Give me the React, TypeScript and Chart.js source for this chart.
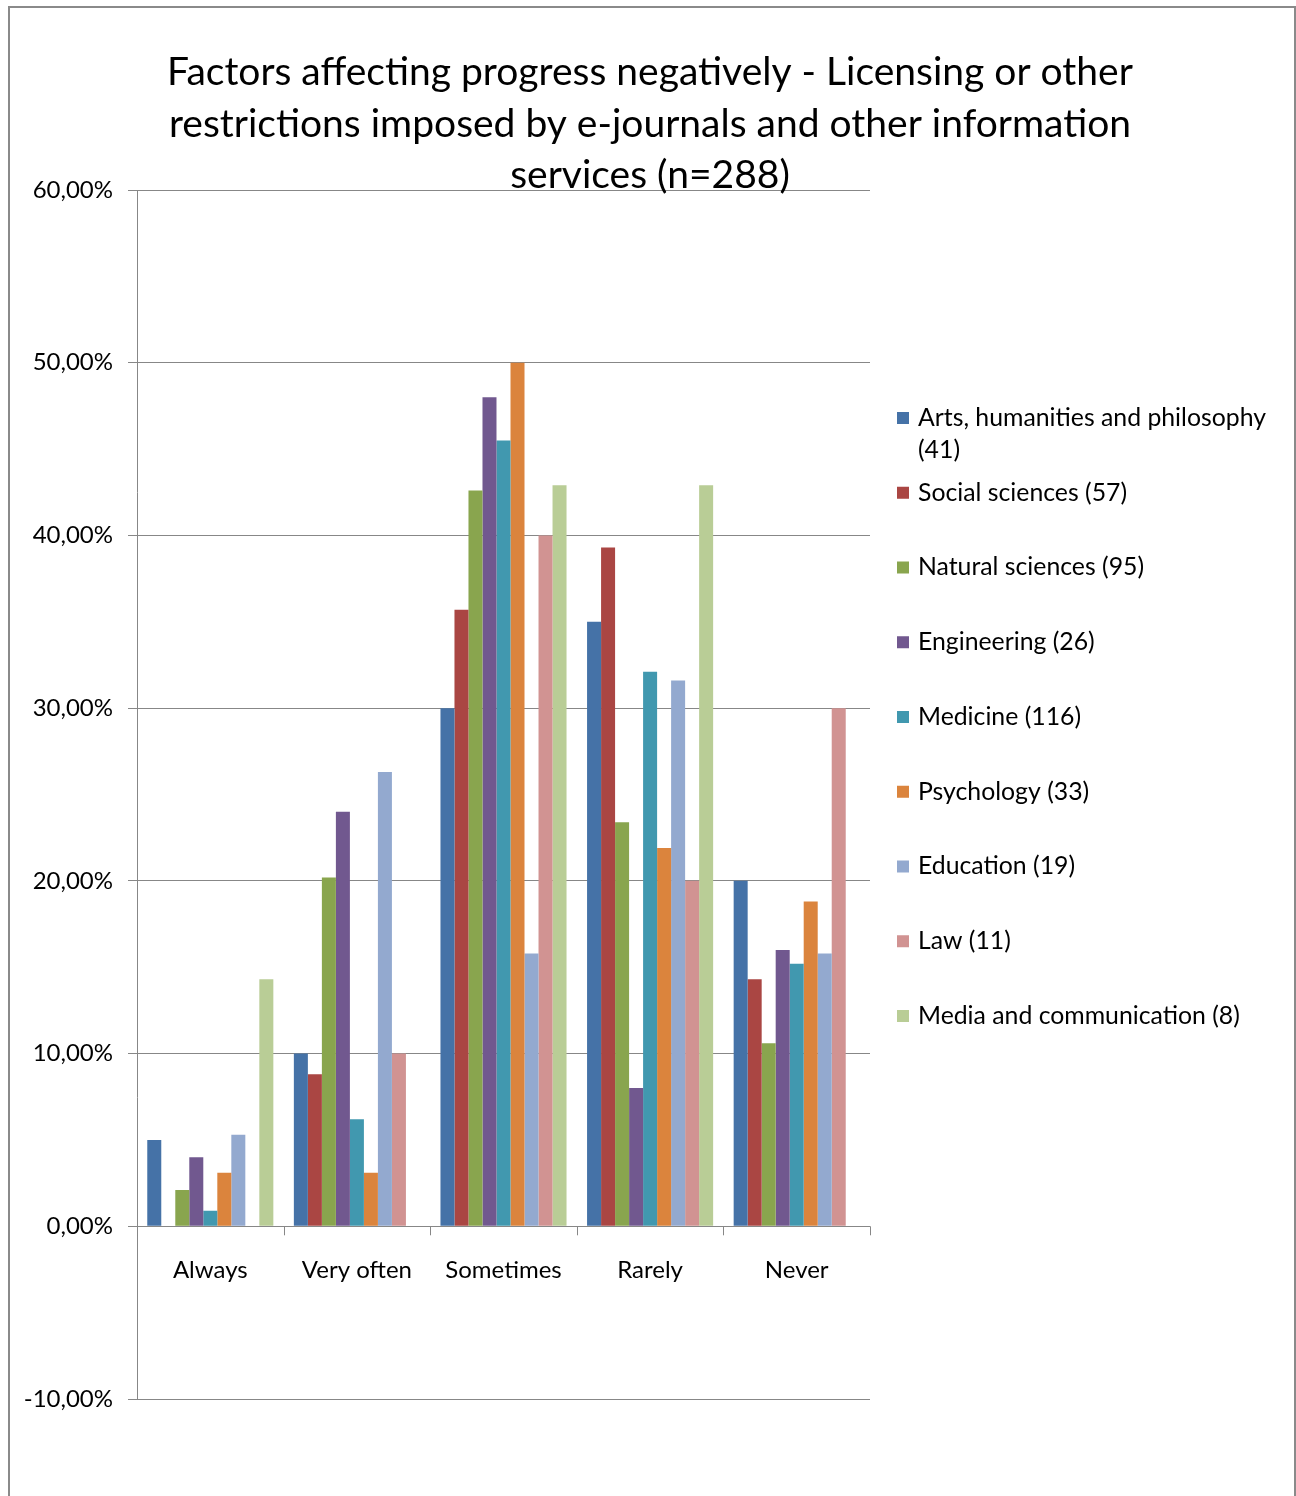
import React, { useEffect, useRef } from "react";
import { Chart, registerables } from "chart.js";

Chart.register(...registerables);

const TITLE_LINES = [
  "Factors affecting progress negatively - Licensing or other",
  "restrictions imposed by e-journals and other information",
  "services (n=288)",
];

const CATEGORIES = ["Always", "Very often", "Sometimes", "Rarely", "Never"];

const SERIES_NAMES = [
  "Arts, humanities and philosophy (41)",
  "Social sciences (57)",
  "Natural sciences (95)",
  "Engineering (26)",
  "Medicine (116)",
  "Psychology (33)",
  "Education (19)",
  "Law (11)",
  "Media and communication (8)",
];

const SERIES_COLORS = [
  "#4572A7",
  "#AA4643",
  "#89A54E",
  "#71588F",
  "#4198AF",
  "#DB843D",
  "#93A9CF",
  "#D19392",
  "#B9CD96",
];

const ARTS = [5.0, 10.0, 30.0, 35.0, 20.0];
const SOCIAL = [0, 8.8, 35.7, 39.3, 14.3];
const NATURAL = [2.1, 20.2, 42.6, 23.4, 10.6];
const ENGINEERING = [4.0, 24.0, 48.0, 8.0, 16.0];
const MEDICINE = [0.9, 6.2, 45.5, 32.1, 15.2];
const PSYCHOLOGY = [3.1, 3.1, 50.0, 21.9, 18.8];
const EDUCATION = [5.3, 26.3, 15.8, 31.6, 15.8];
const LAW = [0, 10.0, 40.0, 20.0, 30.0];
const MEDIA = [14.3, 0, 42.9, 42.9, 0];

const SERIES_VALUES = [ARTS, SOCIAL, NATURAL, ENGINEERING, MEDICINE, PSYCHOLOGY, EDUCATION, LAW, MEDIA];

const Y_MIN = -10;
const Y_MAX = 60;
const Y_STEP = 10;

const FONT = "Lato, 'Open Sans', sans-serif";
const TEXT_COLOR = "#000000";
const LINE_COLOR = "#878787";

function formatPct(v: number): string {
  return v.toFixed(2).replace(".", ",") + "%";
}

function wrapText(ctx: CanvasRenderingContext2D, text: string, maxWidth: number): string[] {
  const words = text.split(" ");
  const lines: string[] = [];
  let cur = "";
  for (const w of words) {
    const test = cur ? cur + " " + w : w;
    if (ctx.measureText(test).width > maxWidth && cur) {
      lines.push(cur);
      cur = w;
    } else {
      cur = test;
    }
  }
  if (cur) lines.push(cur);
  return lines;
}

const decorPlugin = {
  id: "decor",
  afterDraw(chart: any) {
    const ctx: CanvasRenderingContext2D = chart.ctx;
    const area = chart.chartArea;
    const yScale = chart.scales.y;
    ctx.save();

    // outer frame
    ctx.strokeStyle = "#8a8a8a";
    ctx.lineWidth = 2;
    ctx.strokeRect(9, 7, 1286, 1520);

    // title
    ctx.fillStyle = TEXT_COLOR;
    ctx.font = `39px ${FONT}`;
    ctx.textAlign = "center";
    ctx.textBaseline = "alphabetic";
    const titleCx = 650;
    TITLE_LINES.forEach((line, i) => {
      ctx.fillText(line, titleCx, 85 + i * 51.5);
    });

    // category axis tick marks and labels at the zero line
    const y0 = yScale.getPixelForValue(0);
    const n = CATEGORIES.length;
    const step = (area.right - area.left) / n;
    ctx.strokeStyle = LINE_COLOR;
    ctx.lineWidth = 1;
    ctx.beginPath();
    for (let i = 0; i <= n; i++) {
      const x = Math.round(area.left + i * step) + 0.5;
      ctx.moveTo(x, y0);
      ctx.lineTo(x, y0 + 9);
    }
    ctx.stroke();
    ctx.font = `24px ${FONT}`;
    ctx.textAlign = "center";
    ctx.textBaseline = "middle";
    ctx.fillStyle = TEXT_COLOR;
    CATEGORIES.forEach((c, i) => {
      const x = chart.scales.x.getPixelForValue(i);
      ctx.fillText(c, x, y0 + 44);
    });

    // legend
    ctx.font = `24.8px ${FONT}`;
    ctx.textAlign = "left";
    ctx.textBaseline = "middle";
    const legX = 897;
    const textX = 918;
    const firstY = 418;
    const rowGap = 74.75;
    SERIES_NAMES.forEach((name, i) => {
      const cy = firstY + i * rowGap;
      ctx.fillStyle = SERIES_COLORS[i];
      ctx.fillRect(legX, cy - 6, 12, 12);
      ctx.fillStyle = TEXT_COLOR;
      const lines = wrapText(ctx, name, 1288 - textX);
      lines.forEach((ln, j) => {
        ctx.fillText(ln, textX, cy + j * 32);
      });
    });

    ctx.restore();
  },
};

export default function App() {
  const canvasRef = useRef<HTMLCanvasElement | null>(null);

  useEffect(() => {
    if (!canvasRef.current) return;
    const chart = new Chart(canvasRef.current, {
      type: "bar",
      data: {
        labels: CATEGORIES,
        datasets: SERIES_NAMES.map((name, i) => ({
          label: name,
          data: SERIES_VALUES[i],
          backgroundColor: SERIES_COLORS[i],
          borderWidth: 0,
          barPercentage: 1,
          categoryPercentage: 0.86,
        })),
      },
      options: {
        responsive: false,
        animation: false,
        layout: { padding: { left: 0, top: 190, right: 426, bottom: 97 } },
        plugins: {
          legend: { display: false },
          title: { display: false },
          tooltip: { enabled: false },
        },
        scales: {
          x: {
            display: false,
          },
          y: {
            min: Y_MIN,
            max: Y_MAX,
            afterFit: (s: any) => {
              s.width = 137;
            },
            ticks: {
              stepSize: Y_STEP,
              padding: 15,
              color: TEXT_COLOR,
              font: { family: FONT, size: 24 },
              callback: (v: any) => formatPct(Number(v)),
            },
            grid: {
              color: LINE_COLOR,
              lineWidth: 1,
              drawTicks: true,
              tickLength: 9,
              tickColor: LINE_COLOR,
            },
            border: { display: true, color: LINE_COLOR, width: 1 },
          },
        },
      },
      plugins: [decorPlugin],
    });
    return () => chart.destroy();
  }, []);

  return (
    <div style={{ position: "absolute", left: 0, top: 0, width: 1296, height: 1496, background: "#ffffff" }}>
      <canvas ref={canvasRef} width={1296} height={1496} style={{ width: 1296, height: 1496, display: "block" }} />
    </div>
  );
}
